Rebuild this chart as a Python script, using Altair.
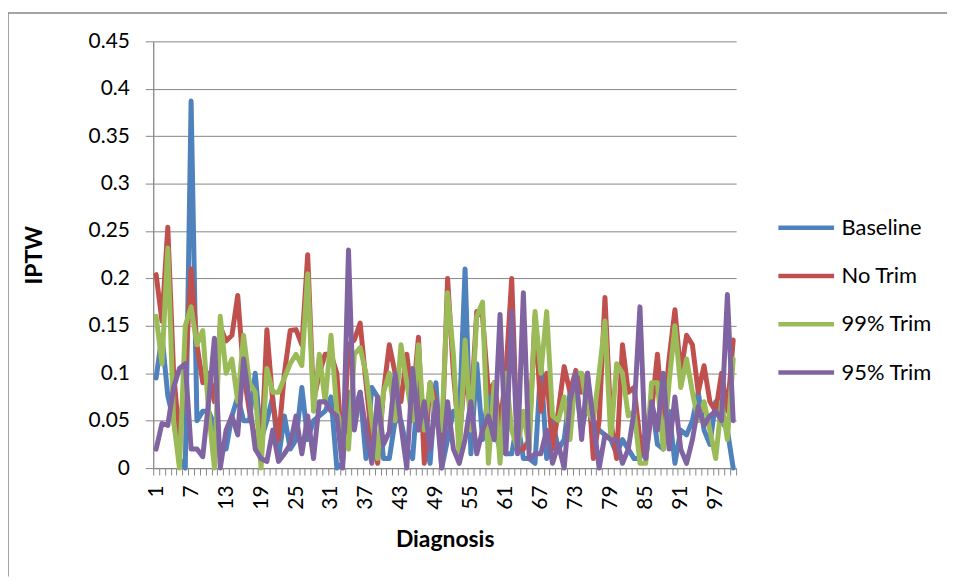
import altair as alt
import pandas as pd

diagnosis = list(range(1, 101))

baseline = [0.095, 0.14, 0.076, 0.05, 0.01, 0.0, 0.387, 0.05, 0.06, 0.06,
            0.045, 0.02, 0.02, 0.055, 0.075, 0.05, 0.05, 0.1, 0.03, 0.05,
            0.075, 0.01, 0.055, 0.02, 0.03, 0.085, 0.03, 0.05, 0.055, 0.06,
            0.075, 0.0, 0.005, 0.08, 0.06, 0.08, 0.01, 0.085, 0.075, 0.01,
            0.01, 0.05, 0.05, 0.02, 0.01, 0.09, 0.03, 0.005, 0.09, 0.0,
            0.03, 0.06, 0.05, 0.21, 0.015, 0.11, 0.03, 0.08, 0.04, 0.02,
            0.015, 0.015, 0.05, 0.01, 0.01, 0.005, 0.11, 0.01, 0.05, 0.02,
            0.03, 0.08, 0.09, 0.04, 0.07, 0.05, 0.04, 0.035, 0.03, 0.015,
            0.03, 0.02, 0.01, 0.01, 0.04, 0.07, 0.025, 0.02, 0.06, 0.005,
            0.04, 0.035, 0.05, 0.08, 0.04, 0.025, 0.07, 0.05, 0.04, 0.0]

no_trim = [0.204, 0.155, 0.254, 0.1, 0.03, 0.1, 0.21, 0.13, 0.09, 0.1,
           0.07, 0.149, 0.134, 0.14, 0.182, 0.1, 0.06, 0.03, 0.01, 0.146,
           0.07, 0.03, 0.1, 0.145, 0.146, 0.13, 0.225, 0.07, 0.1, 0.12,
           0.12, 0.1, 0.01, 0.13, 0.135, 0.153, 0.09, 0.03, 0.005, 0.08,
           0.13, 0.1, 0.07, 0.12, 0.07, 0.138, 0.005, 0.09, 0.07, 0.02,
           0.2, 0.1, 0.03, 0.1, 0.06, 0.165, 0.16, 0.08, 0.09, 0.045,
           0.1, 0.2, 0.02, 0.02, 0.03, 0.16, 0.06, 0.1, 0.02, 0.06,
           0.107, 0.08, 0.103, 0.08, 0.1, 0.01, 0.05, 0.18, 0.05, 0.01,
           0.13, 0.08, 0.085, 0.03, 0.01, 0.06, 0.12, 0.05, 0.115, 0.167,
           0.1, 0.14, 0.13, 0.08, 0.108, 0.07, 0.06, 0.1, 0.06, 0.135]

trim99 = [0.16, 0.11, 0.232, 0.05, 0.0, 0.15, 0.17, 0.13, 0.145, 0.06,
          0.0, 0.16, 0.1, 0.115, 0.07, 0.14, 0.09, 0.08, 0.0, 0.105,
          0.08, 0.08, 0.095, 0.11, 0.12, 0.108, 0.205, 0.06, 0.12, 0.07,
          0.14, 0.06, 0.04, 0.02, 0.12, 0.127, 0.1, 0.05, 0.01, 0.08,
          0.1, 0.05, 0.13, 0.09, 0.05, 0.13, 0.04, 0.09, 0.05, 0.04,
          0.185, 0.12, 0.01, 0.135, 0.04, 0.16, 0.175, 0.005, 0.09, 0.005,
          0.1, 0.04, 0.02, 0.06, 0.02, 0.165, 0.1, 0.165, 0.055, 0.05,
          0.075, 0.03, 0.1, 0.1, 0.06, 0.05, 0.1, 0.155, 0.03, 0.11,
          0.1, 0.055, 0.06, 0.005, 0.005, 0.09, 0.09, 0.02, 0.09, 0.15,
          0.085, 0.115, 0.08, 0.05, 0.07, 0.04, 0.01, 0.07, 0.03, 0.115]

trim95 = [0.02, 0.047, 0.045, 0.085, 0.105, 0.11, 0.02, 0.02, 0.012, 0.07,
          0.137, 0.0, 0.04, 0.055, 0.035, 0.115, 0.07, 0.02, 0.01, 0.007,
          0.04, 0.007, 0.015, 0.025, 0.055, 0.015, 0.055, 0.01, 0.07, 0.07,
          0.06, 0.055, 0.0, 0.23, 0.04, 0.08, 0.04, 0.005, 0.075, 0.025,
          0.038, 0.1, 0.045, 0.0, 0.105, 0.04, 0.07, 0.02, 0.07, 0.0,
          0.07, 0.02, 0.005, 0.03, 0.07, 0.015, 0.04, 0.055, 0.03, 0.162,
          0.015, 0.165, 0.015, 0.185, 0.01, 0.015, 0.015, 0.04, 0.005, 0.025,
          0.0, 0.07, 0.1, 0.03, 0.1, 0.05, 0.0, 0.035, 0.03, 0.03,
          0.005, 0.02, 0.06, 0.17, 0.01, 0.07, 0.04, 0.1, 0.02, 0.075,
          0.02, 0.005, 0.03, 0.065, 0.045, 0.055, 0.06, 0.05, 0.183, 0.05]

series_names = ["Baseline", "No Trim", "99% Trim", "95% Trim"]
series_colors = ["#4F81BD", "#C0504D", "#9BBB59", "#8064A2"]
y_ticks = [0, 0.05, 0.1, 0.15, 0.2, 0.25, 0.3, 0.35, 0.4, 0.45]
x_label_values = [1, 7, 13, 19, 25, 31, 37, 43, 49, 55, 61, 67, 73, 79, 85, 91, 97]

rows = []
for name, vals in zip(series_names, [baseline, no_trim, trim99, trim95]):
    for d, v in zip(diagnosis, vals):
        rows.append({"series": name, "diagnosis": d, "value": v})
df = pd.DataFrame(rows)

W, H = 586, 429
band = W / 100.0
tick_positions = [k + 0.5 for k in range(0, 101)]
label_list = ",".join(str(v) for v in x_label_values)

lines = alt.Chart(df).mark_line(
    strokeWidth=5, strokeJoin="round", strokeCap="round"
).encode(
    x=alt.X(
        "diagnosis:Q",
        scale=alt.Scale(domain=[0.5, 100.5], nice=False, zero=False),
        axis=alt.Axis(
            title="Diagnosis",
            values=tick_positions,
            labelExpr=f"indexof([{label_list}], datum.value + 0.5) >= 0 ? format(datum.value + 0.5, 'd') : ''",
            labelAngle=-90,
            labelOffset=band / 2,
            labelOverlap=False,
            labelFlush=False,
            grid=False,
            tickSize=7,
            labelPadding=10,
            titlePadding=19,
        ),
    ),
    y=alt.Y(
        "value:Q",
        scale=alt.Scale(domain=[0, 0.45], nice=False),
        axis=alt.Axis(
            title="IPTW",
            values=y_ticks,
            format="~g",
            grid=True,
            tickSize=8,
            labelPadding=16,
            titlePadding=42,
        ),
    ),
    color=alt.Color(
        "series:N",
        scale=alt.Scale(domain=series_names, range=series_colors),
        sort=series_names,
        legend=alt.Legend(
            title=None,
            orient="none",
            legendX=626,
            legendY=157,
            symbolType="stroke",
            symbolSize=3136,
            symbolStrokeWidth=4.5,
            labelFontSize=22,
            labelFont="Lato",
            labelColor="#000000",
            labelOffset=5,
            rowPadding=6.5,
        ),
    ),
    order=alt.Order("diagnosis:Q"),
)

border_top = alt.Chart(alt.Data(values=[{}])).mark_rule(
    stroke="#868686", strokeWidth=1.5
).encode(x=alt.value(-146), x2=alt.value(798), y=alt.value(-28.5))

border_left = alt.Chart(alt.Data(values=[{}])).mark_rule(
    stroke="#868686", strokeWidth=1.5
).encode(x=alt.value(-146), y=alt.value(-28.5), y2=alt.value(538))

chart = alt.layer(border_top, border_left, lines).properties(
    width=W,
    height=H,
    autosize=alt.AutoSizeParams(type="none"),
    padding={"left": 146, "top": 32, "right": 212, "bottom": 109},
).configure_view(
    stroke=None
).configure_axis(
    labelFont="Lato",
    labelFontSize=21,
    labelColor="#000000",
    titleFont="Lato",
    titleFontSize=23,
    titleFontWeight="bold",
    titleColor="#000000",
    domainColor="#868686",
    tickColor="#868686",
    gridColor="#868686",
    gridWidth=1,
    domainWidth=1.3,
)

chart.save("out.html", embed_options={"renderer": "svg", "actions": False})
